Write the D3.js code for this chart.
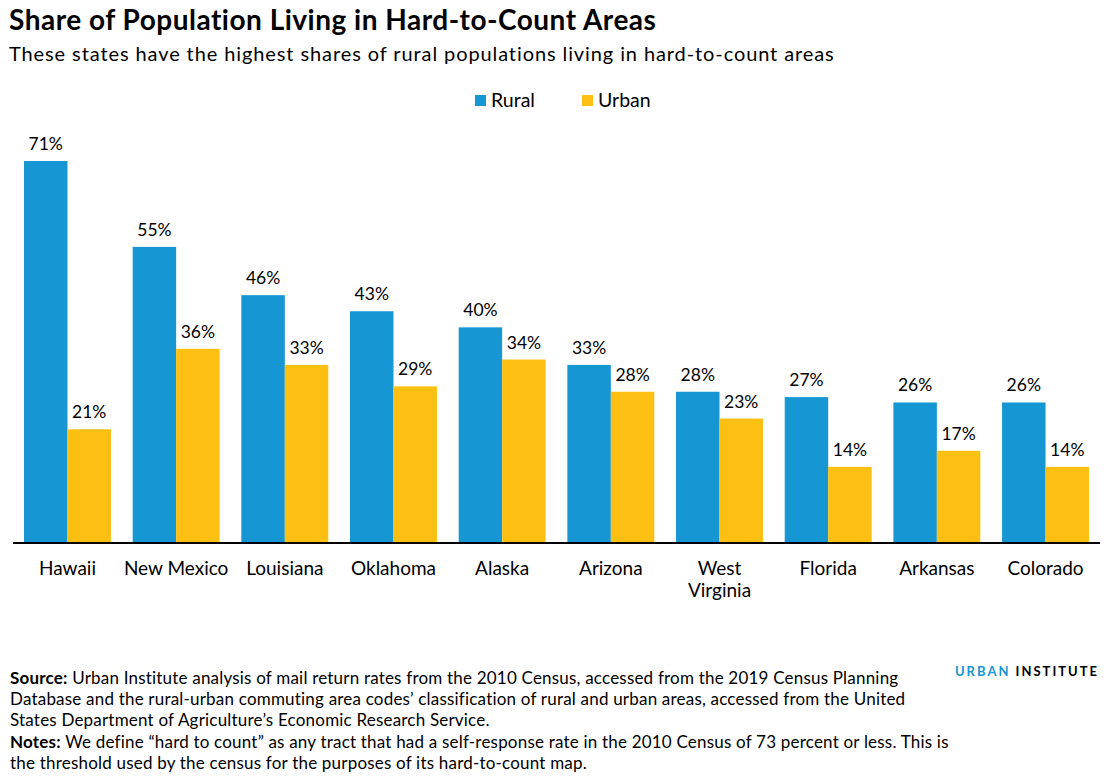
<!DOCTYPE html>
<html>
<head>
<meta charset="utf-8">
<script src="https://cdn.jsdelivr.net/npm/d3@7"></script>
<style>
  body { margin: 0; background: #fff; }
  svg { font-family: Lato, "Open Sans", sans-serif; }
  .title { font-size: 28px; font-weight: bold; fill: #000; letter-spacing: 0.5px; }
  .subtitle { font-size: 20px; fill: #000; letter-spacing: 0.9px; }
  .legend-text { font-size: 19.5px; fill: #000; }
  .value-label { font-size: 17.5px; fill: #000; text-anchor: middle; }
  .cat-label { font-size: 19px; fill: #000; text-anchor: middle; }
  .note { font-size: 17px; fill: #000; letter-spacing: 0.2px; }
</style>
</head>
<body>
<svg id="chart"></svg>
<script>
const states = ["Hawaii", "New Mexico", "Louisiana", "Oklahoma", "Alaska", "Arizona", "West Virginia", "Florida", "Arkansas", "Colorado"];
const stateLines = [["Hawaii"], ["New Mexico"], ["Louisiana"], ["Oklahoma"], ["Alaska"], ["Arizona"], ["West", "Virginia"], ["Florida"], ["Arkansas"], ["Colorado"]];
const rural = [71, 55, 46, 43, 40, 33, 28, 27, 26, 26];
const urban = [21, 36, 33, 29, 34, 28, 23, 14, 17, 14];
const seriesNames = ["Rural", "Urban"];
const seriesColors = ["#1696d2", "#fdbf11"];

const notes = [
    { bold: "Source:", text: " Urban Institute analysis of mail return rates from the 2010 Census, accessed from the 2019 Census Planning" },
    { bold: "", text: "Database and the rural-urban commuting area codes\u2019 classification of rural and urban areas, accessed from the United" },
    { bold: "", text: "States Department of Agriculture\u2019s Economic Research Service." },
    { bold: "Notes:", text: " We define \u201chard to count\u201d as any tract that had a self-response rate in the 2010 Census of 73 percent or less. This is" },
    { bold: "", text: "the threshold used by the census for the purposes of its hard-to-count map." }
];

const width = 1113;
const height = 784;
const baseline = 542;

const svg = d3.select("#chart")
    .attr("width", width)
    .attr("height", height);

const data = states.map(function(s, i) {
    return { state: s, lines: stateLines[i], values: [rural[i], urban[i]] };
});

const x0 = d3.scaleBand()
    .domain(states)
    .range([24, 1089])
    .paddingInner(0.2)
    .paddingOuter(0);

const x1 = d3.scaleBand()
    .domain(seriesNames)
    .range([0, x0.bandwidth()]);

const y = d3.scaleLinear()
    .domain([0, 71])
    .range([baseline, 161]);

// Titles
svg.append("text")
    .attr("class", "title")
    .attr("x", 9)
    .attr("y", 30)
    .text("Share of Population Living in Hard-to-Count Areas");

svg.append("text")
    .attr("class", "subtitle")
    .attr("x", 9)
    .attr("y", 61)
    .text("These states have the highest shares of rural populations living in hard-to-count areas");

// Legend
const legend = svg.append("g")
    .attr("transform", "translate(475, 101)");

const legendX = [0, 107];
seriesNames.forEach(function(name, i) {
    legend.append("rect")
        .attr("x", legendX[i])
        .attr("y", -6)
        .attr("width", 11)
        .attr("height", 11)
        .attr("fill", seriesColors[i]);
    legend.append("text")
        .attr("class", "legend-text")
        .attr("x", legendX[i] + 16)
        .attr("y", 6)
        .text(name);
});

// Bars
const groups = svg.selectAll("g.group")
    .data(data)
    .enter()
    .append("g")
    .attr("class", "group")
    .attr("transform", function(d) { return `translate(${x0(d.state)},0)`; });

groups.selectAll("rect")
    .data(function(d) { return d.values.map(function(v, i) { return { name: seriesNames[i], value: v, color: seriesColors[i] }; }); })
    .enter()
    .append("rect")
    .attr("x", function(d) { return x1(d.name); })
    .attr("y", function(d) { return y(d.value); })
    .attr("width", x1.bandwidth())
    .attr("height", function(d) { return baseline - y(d.value); })
    .attr("fill", function(d) { return d.color; });

groups.selectAll("text.value-label")
    .data(function(d) { return d.values.map(function(v, i) { return { name: seriesNames[i], value: v }; }); })
    .enter()
    .append("text")
    .attr("class", "value-label")
    .attr("x", function(d) { return x1(d.name) + x1.bandwidth() / 2; })
    .attr("y", function(d) { return y(d.value) - 11; })
    .text(function(d) { return d.value + "%"; });

// Axis line
svg.append("line")
    .attr("x1", 13)
    .attr("x2", 1100)
    .attr("y1", baseline + 1)
    .attr("y2", baseline + 1)
    .attr("stroke", "#000")
    .attr("stroke-width", 2);

// Category labels
groups.each(function(d) {
    const t = d3.select(this).append("text")
        .attr("class", "cat-label")
        .attr("x", x0.bandwidth() / 2)
        .attr("y", 575);
    d.lines.forEach(function(line, i) {
        t.append("tspan")
            .attr("x", x0.bandwidth() / 2)
            .attr("dy", i === 0 ? 0 : 22)
            .text(line);
    });
});

// Notes
notes.forEach(function(n, i) {
    const t = svg.append("text")
        .attr("class", "note")
        .attr("x", 10)
        .attr("y", 684 + i * 21.2);
    if (n.bold) {
        t.append("tspan").attr("font-weight", "bold").text(n.bold);
    }
    t.append("tspan").text(n.text);
});

// Logo
const logo = svg.append("text")
    .attr("x", 1099)
    .attr("y", 676)
    .attr("text-anchor", "end")
    .attr("font-size", "13px")
    .attr("font-weight", "bold")
    .attr("letter-spacing", "2px");
logo.append("tspan").attr("fill", "#1696d2").text("URBAN ");
logo.append("tspan").attr("fill", "#000").text("INSTITUTE");
</script>
</body>
</html>
